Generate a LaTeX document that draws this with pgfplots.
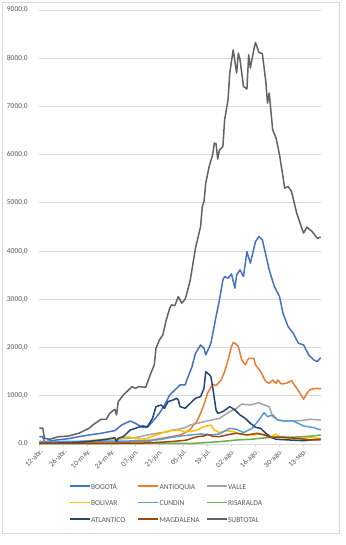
\documentclass[border=0pt]{standalone}
\usepackage{pgfplots}
\pgfplotsset{compat=1.18}
\usepackage{fontspec}
\setmainfont{Carlito}
\definecolor{cBog}{HTML}{4472C4}
\definecolor{cAnt}{HTML}{ED7D31}
\definecolor{cVal}{HTML}{A5A5A5}
\definecolor{cBol}{HTML}{FFC000}
\definecolor{cCun}{HTML}{5B9BD5}
\definecolor{cRis}{HTML}{70AD47}
\definecolor{cAtl}{HTML}{264478}
\definecolor{cMag}{HTML}{9E480E}
\definecolor{cSub}{HTML}{636363}
\definecolor{txt}{HTML}{595959}
\definecolor{gridc}{HTML}{D9D9D9}
\newcommand\cf{\fontsize{7.5bp}{9bp}\selectfont}
\begin{document}
\begin{tikzpicture}[x=1bp,y=1bp]
\path[fill=white] (0,0) rectangle (345,545);
\draw[gridc, line width=0.8bp] (2.5,12) rectangle (339.5,542.5);
\begin{axis}[
  at={(39.3bp,101bp)}, anchor=south west,
  scale only axis, width=281.4bp, height=434bp,
  xmin=0, xmax=164, ymin=0, ymax=9000,
  clip=false,
  axis lines*=left,
  y axis line style={draw=none},
  x axis line style={-, draw=gridc, line width=0.8bp},
  ymajorgrids, grid style={draw=gridc, line width=0.8bp},
  ytick={0,1000,...,9000},
  ytick style={draw=none},
  xtick={0,14,...,154},
  xticklabels={12-abr.,26-abr.,10-may.,24-may.,07-jun.,21-jun.,05-jul.,19-jul.,02-ago.,16-ago.,30-ago.,13-sep.},
  tick align=outside, major tick length=3bp,
  xtick style={draw=gridc, line width=0.8bp},
  x tick label style={rotate=45, anchor=north east, font=\cf, text=txt, inner sep=1bp},
  y tick label style={font=\cf, text=txt, xshift=-5bp},
  /pgf/number format/assume math mode=true,
  /pgf/number format/.cd, fixed, fixed zerofill, precision=1, use comma, 1000 sep={},
  /pgfplots/.cd,
  every axis plot/.append style={line width=1.5bp, mark=none, line join=round},
  legend columns=3,
  legend cell align=left,
  legend image code/.code={\draw[#1] (0bp,0.3ex) -- (20bp,0.3ex);},
  legend style={at={(0.105,-0.09)}, anchor=north west, draw=none, fill=none,
    font=\cf, text=txt, inner sep=0pt, row sep=8.5bp,
    nodes={inner sep=0.5bp, text width=46bp, text height=5.5bp, text depth=1.5bp},
    /tikz/every odd column/.append style={column sep=0bp}},
]
\addplot[cBog] coordinates {(0,152)(2,150)(3,48)(10,83)(17,110)(23,152)(29,187)(36,222)(44,277)(48,394)(53,477)(56,429)(60,346)(63,346)(66,463)(70,637)(73,809)(76,1017)(79,1120)(82,1224)(85,1224)(86,1328)(89,1604)(91,1881)(94,2054)(96,1985)(97,1847)(100,2089)(103,2641)(105,2988)(107,3403)(108,3472)(110,3438)(112,3527)(114,3230)(115,3506)(117,3610)(119,3472)(121,3990)(123,3750)(126,4198)(128,4302)(130,4233)(132,3922)(134,3610)(137,3264)(140,3057)(142,2712)(145,2434)(148,2297)(151,2089)(154,2054)(157,1847)(160,1743)(162,1708)(164,1791)};
\addlegendentry{BOGOTÁ}
\addplot[cAnt] coordinates {(0,25)(10,20)(20,25)(30,30)(40,35)(50,40)(58,45)(64,55)(68,100)(72,120)(76,150)(80,170)(83,200)(86,260)(88,304)(90,400)(92,480)(94,640)(96,820)(98,1050)(100,1180)(101,1240)(103,1210)(105,1290)(106,1328)(108,1500)(110,1743)(112,2019)(113,2102)(114,2090)(116,2019)(118,1743)(120,1640)(122,1778)(125,1778)(126,1640)(129,1500)(132,1293)(134,1259)(136,1328)(138,1259)(139,1328)(141,1245)(144,1259)(147,1314)(150,1155)(152,1052)(154,927)(156,1052)(158,1135)(162,1155)(164,1141)};
\addlegendentry{ANTIOQUIA}
\addplot[cVal] coordinates {(0,60)(5,40)(15,40)(25,50)(35,70)(45,100)(56,131)(63,187)(70,230)(75,256)(76,277)(80,300)(85,339)(88,394)(96,463)(105,533)(111,671)(115,740)(118,830)(123,809)(128,858)(131,809)(134,775)(136,567)(139,498)(144,477)(152,484)(158,512)(164,498)};
\addlegendentry{VALLE}
\addplot[cBol] coordinates {(0,10)(20,20)(27,62)(36,97)(46,104)(52,152)(56,110)(62,104)(68,187)(75,270)(81,290)(85,256)(88,256)(92,290)(96,360)(100,394)(102,290)(105,235)(109,277)(113,256)(117,208)(121,187)(125,187)(129,208)(133,187)(135,152)(138,208)(140,139)(146,118)(150,104)(158,139)(164,110)};
\addlegendentry{BOLIVAR}
\addplot[cCun] coordinates {(0,40)(10,50)(30,60)(50,60)(60,70)(70,90)(76,131)(83,170)(88,187)(94,208)(100,187)(105,208)(111,325)(115,304)(119,235)(124,325)(128,498)(131,650)(133,567)(136,602)(139,498)(142,477)(148,477)(154,374)(160,339)(164,290)};
\addlegendentry{CUNDIN}
\addplot[cRis] coordinates {(0,5)(60,10)(75,15)(88,10)(96,27)(105,48)(115,83)(123,97)(129,118)(135,139)(140,152)(146,139)(154,152)(160,170)(164,187)};
\addlegendentry{RISARALDA}
\addplot[cAtl] coordinates {(0,20)(10,20)(17,27)(25,40)(31,62)(39,97)(44,131)(45,48)(46,120)(49,152)(53,290)(56,325)(60,374)(63,360)(66,533)(68,775)(71,809)(73,740)(75,878)(78,913)(80,948)(81,913)(82,775)(85,740)(88,844)(91,948)(94,982)(96,1155)(97,1500)(99,1440)(100,1397)(101,1189)(103,706)(104,637)(107,671)(111,775)(114,706)(117,602)(120,533)(123,429)(126,346)(129,325)(132,222)(135,139)(138,97)(146,83)(154,69)(160,90)(164,100)};
\addlegendentry{ATLANTICO}
\addplot[cMag] coordinates {(0,14)(40,14)(60,20)(70,35)(76,48)(83,69)(86,83)(92,152)(96,166)(98,200)(101,160)(105,152)(111,201)(115,222)(121,187)(127,222)(131,187)(135,139)(142,139)(150,118)(158,83)(164,83)};
\addlegendentry{MAGDALENA}
\addplot[cSub] coordinates {(0,330)(2,330)(3,118)(6,97)(11,150)(17,166)(23,222)(29,325)(32,415)(36,512)(39,512)(41,637)(44,720)(45,602)(46,878)(49,1017)(54,1189)(56,1155)(58,1189)(62,1176)(65,1467)(67,1640)(68,1985)(70,2158)(72,2262)(74,2573)(76,2815)(77,2884)(79,2870)(81,3057)(83,2919)(85,3003)(86,3127)(88,3403)(91,4060)(94,4510)(95,4924)(96,5028)(97,5410)(99,5755)(101,5997)(102,6240)(103,6225)(104,5908)(105,6100)(107,6170)(108,6723)(110,7138)(111,7692)(113,8175)(115,7692)(116,8106)(117,7968)(119,7414)(121,7360)(122,8072)(123,7796)(125,8175)(126,8327)(128,8120)(130,8092)(132,7518)(133,7069)(134,7277)(136,6516)(138,6343)(140,5997)(142,5547)(143,5306)(145,5340)(147,5236)(150,4787)(153,4476)(154,4372)(156,4497)(159,4405)(162,4268)(164,4289)};
\addlegendentry{SUBTOTAL}
\end{axis}
\end{tikzpicture}
\end{document}
